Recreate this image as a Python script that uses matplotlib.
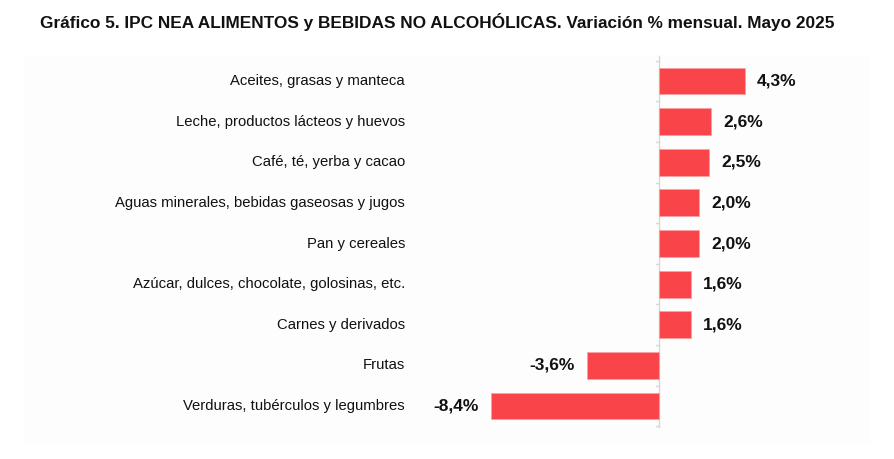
import matplotlib
matplotlib.use("Agg")
import matplotlib.pyplot as plt

categories = [
    "Aceites, grasas y manteca",
    "Leche, productos lácteos y huevos",
    "Café, té, yerba y cacao",
    "Aguas minerales, bebidas gaseosas y jugos",
    "Pan y cereales",
    "Azúcar, dulces, chocolate, golosinas, etc.",
    "Carnes y derivados",
    "Frutas",
    "Verduras, tubérculos y legumbres",
]
values = [4.3, 2.6, 2.5, 2.0, 2.0, 1.6, 1.6, -3.6, -8.4]
value_labels = ["4,3%", "2,6%", "2,5%", "2,0%", "2,0%", "1,6%", "1,6%", "-3,6%", "-8,4%"]
title = "Gráfico 5. IPC NEA ALIMENTOS y BEBIDAS NO ALCOHÓLICAS. Variación % mensual. Mayo 2025"

W, H = 895, 459
fig = plt.figure(figsize=(W / 100, H / 100), dpi=100)
fig.patch.set_facecolor("white")

# panel
px_left, px_right, px_top, px_bot = 24, 870, 55, 443
ax = fig.add_axes([px_left / W, 1 - px_bot / H, (px_right - px_left) / W, (px_bot - px_top) / H])
ax.set_facecolor("#fdfdfd")
scale = 20.0  # px per %
zero_px = 659
ax.set_xlim(-(zero_px - px_left) / scale, (px_right - zero_px) / scale)
ax.set_ylim(8.91, -0.64)
for s in ax.spines.values():
    s.set_visible(False)
ax.set_xticks([])
ax.set_yticks([])

ypos = list(range(len(categories)))
ax.barh(ypos, values, height=0.66, color="#f94449", edgecolor="#f9a0a2", linewidth=0.6, zorder=3)

# zero line and small ticks
ax.plot([0, 0], [-0.62, 8.52], color="#d8d8d8", lw=1.0, zorder=2)
for b in [i + 0.5 for i in range(-1, len(categories))]:
    ax.plot([-0.15, 0], [b, b], color="#d8d8d8", lw=1.0, zorder=2)

label_x = (405 - zero_px) / scale
for y, c in zip(ypos, categories):
    ax.text(label_x, y, c, ha="right", va="center", fontsize=10.7, color="#111111",
            family=["Liberation Sans", "DejaVu Sans"])

for y, v, t in zip(ypos, values, value_labels):
    off = 12 / scale
    if v >= 0:
        ax.text(v + off, y, t, ha="left", va="center", fontsize=12.5, fontweight="bold",
                color="#111111", family=["Liberation Sans", "DejaVu Sans"])
    else:
        ax.text(v - off, y, t, ha="right", va="center", fontsize=12.5, fontweight="bold",
                color="#111111", family=["Liberation Sans", "DejaVu Sans"])

fig.text(437 / W, 1 - 22 / H, title, ha="center", va="center", fontsize=12.4, fontweight="bold",
         color="#111111", family=["Liberation Sans", "DejaVu Sans"])

fig.savefig("out.png", dpi=100)
